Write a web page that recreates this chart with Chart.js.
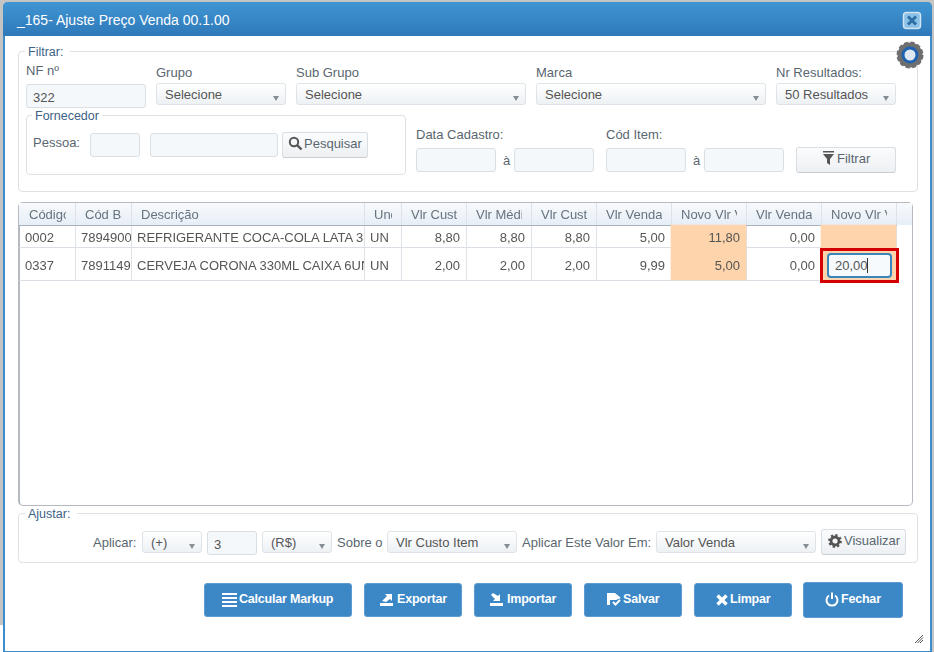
<!DOCTYPE html>
<html lang="pt-BR">
<head>
<meta charset="utf-8">
<title>_165- Ajuste Preço Venda</title>
<script src="https://cdn.jsdelivr.net/npm/chart.js@4"></script>
<style>
  html, body { margin: 0; padding: 0; }
  body { width: 934px; height: 652px; overflow: hidden; position: relative; background: #c4c4c4; font-family: "Liberation Sans", Arial, sans-serif; font-size: 13px; color: #5b6670; }
  #area div, #area svg { position: absolute; }
  #rodape { position: absolute; left: 0; top: 624px; width: 3px; height: 28px; background: #fff; border-top: 1px solid #c4c4c4; box-sizing: border-box; }
  #janela { position: absolute; left: 3px; top: 2px; width: 925px; height: 647px; background: #fff; border: 2px solid #3f8ccb; border-bottom-width: 3px; border-radius: 5px 5px 0 0; }
  #area { position: absolute; left: 0; top: 0; width: 934px; height: 652px; }
  #topo { left: 3px; top: 2px; width: 929px; height: 34px; background: linear-gradient(#3f95d3, #2f79b9); border-radius: 5px 5px 0 0; color: #fff; font-size: 14px; line-height: 36px; text-indent: 14px; }
  .grupo { border: 1px solid #dde2e6; border-radius: 4px; box-sizing: border-box; }
  .leg { background: #fff; color: #3d6286; font-size: 12.5px; padding: 0 7px 0 3px; line-height: 14px; white-space: nowrap; }
  .rot { white-space: nowrap; line-height: 16px; color: #5a666f; }
  .inp { box-sizing: border-box; height: 24px; background: #f4f8fb; border: 1px solid #d8e0e6; border-radius: 3px; line-height: 25px; padding-left: 6px; color: #555; }
  .sel { box-sizing: border-box; height: 22px; background: linear-gradient(#fff, #edf1f4); border: 1px solid #dde3e8; border-radius: 3px; line-height: 21px; padding-left: 8px; color: #555; white-space: nowrap; }
  .sel i { position: absolute; right: 6px; top: 12px; border-left: 3.5px solid transparent; border-right: 3.5px solid transparent; border-top: 5px solid #868e95; }
  .btn { box-sizing: border-box; background: linear-gradient(#fbfcfd, #edf0f3); border: 1px solid #d9dee3; border-bottom-color: #c9ced3; border-radius: 3px; color: #5a666f; line-height: 22px; white-space: nowrap; }
  .azul { box-sizing: border-box; height: 34px; top: 583px; background: #3c87c6; border: 1px solid #5c9cd2; border-radius: 3px; color: #fff; font-weight: bold; font-size: 12.5px; line-height: 31px; white-space: nowrap; letter-spacing: -0.2px; }
  #tabela { left: 18px; top: 202px; width: 895px; height: 304px; box-sizing: border-box; border: 1px solid #b4bac0; border-left: 2px solid #b4bac0; border-radius: 5px; }
  #cabecalho { left: 19px; top: 203px; width: 893px; height: 22px; background: linear-gradient(#f8fafc, #e6eef6); }
  #grade { position: absolute; left: 19px; top: 203px; }
  .cel { overflow: hidden; white-space: nowrap; box-sizing: border-box; }
  #destaque { left: 820px; top: 248px; width: 79px; height: 35px; box-sizing: border-box; border: 3px solid #d40000; }
  #campo { left: 827px; top: 253px; width: 65px; height: 25px; box-sizing: border-box; background: #f6fafd; border: 2px solid #3a86ba; border-radius: 4px; line-height: 22px; padding-left: 6px; color: #555; }
  #cursor { left: 38px; top: 3px; width: 1px; height: 15px; background: #333; }
</style>
</head>
<body>
<div id="rodape"></div>
<div id="janela"></div>
<div id="area">
  <div id="topo">_165- Ajuste Preço Venda 00.1.00</div>
  <svg style="left:902px;top:11px" width="20" height="20" viewBox="0 0 20 20"><rect x="1.5" y="1.5" width="17" height="16" rx="3" fill="#8cc0e6" stroke="#cfe4f4" stroke-width="1.5"/><path d="M6 5.5 14 13.5M14 5.5 6 13.5" stroke="#2d70a8" stroke-width="3"/></svg>

  <div class="grupo" style="left:18px;top:51px;width:900px;height:141px"></div>
  <div class="leg" style="left:25px;top:45px">Filtrar:</div>
  <svg style="left:896px;top:41px" width="28" height="28" viewBox="0 0 28 28"><circle cx="14" cy="14" r="10" fill="none" stroke="#6f6f6f" stroke-width="5"/><circle cx="14" cy="14" r="12" fill="none" stroke="#6f6f6f" stroke-width="3" stroke-dasharray="4 2.3"/><circle cx="14" cy="14" r="7" fill="#dfe8f2" stroke="#1f63b0" stroke-width="3"/></svg>

  <div class="rot" style="left:26px;top:63px">NF nº</div>
  <div class="inp" style="left:26px;top:84px;width:120px">322</div>
  <div class="rot" style="left:156px;top:65px">Grupo</div>
  <div class="sel" style="left:156px;top:83px;width:130px">Selecione<i></i></div>
  <div class="rot" style="left:296px;top:65px">Sub Grupo</div>
  <div class="sel" style="left:296px;top:83px;width:230px">Selecione<i></i></div>
  <div class="rot" style="left:536px;top:65px">Marca</div>
  <div class="sel" style="left:536px;top:83px;width:230px">Selecione<i></i></div>
  <div class="rot" style="left:776px;top:65px">Nr Resultados:</div>
  <div class="sel" style="left:776px;top:83px;width:120px">50 Resultados<i></i></div>

  <div class="grupo" style="left:26px;top:115px;width:380px;height:60px"></div>
  <div class="leg" style="left:32px;top:109px;padding-right:3px">Fornecedor</div>
  <div class="rot" style="left:33px;top:135px">Pessoa:</div>
  <div class="inp" style="left:90px;top:133px;width:50px"></div>
  <div class="inp" style="left:150px;top:133px;width:128px"></div>
  <div class="btn" style="left:282px;top:132px;width:86px;height:26px;padding-left:21px">Pesquisar
    <svg style="left:5px;top:3px" width="15" height="15" viewBox="0 0 15 15"><circle cx="6" cy="6" r="4.2" fill="none" stroke="#555" stroke-width="2"/><path d="M9 9 13.5 13.5" stroke="#555" stroke-width="2.4"/></svg>
  </div>
  <div class="rot" style="left:416px;top:127px">Data Cadastro:</div>
  <div class="inp" style="left:416px;top:148px;width:80px"></div>
  <div class="rot" style="left:503px;top:153px">à</div>
  <div class="inp" style="left:514px;top:148px;width:80px"></div>
  <div class="rot" style="left:606px;top:127px">Cód Item:</div>
  <div class="inp" style="left:606px;top:148px;width:80px"></div>
  <div class="rot" style="left:693px;top:153px">à</div>
  <div class="inp" style="left:704px;top:148px;width:80px"></div>
  <div class="btn" style="left:796px;top:147px;width:100px;height:26px;padding-left:40px">Filtrar
    <svg style="left:25px;top:3px" width="13" height="15" viewBox="0 0 13 15"><path d="M1 0H12V1.6H1ZM1 3H12L8 8V14L5 12V8Z" fill="#555"/></svg>
  </div>

  <div id="tabela"></div>
  <div id="cabecalho"></div>
  <canvas id="grade" width="878" height="78"></canvas>
  <div id="celulas" style="left:0;top:0"></div>
  <div id="destaque"></div>
  <div id="campo"><span id="valor-campo"></span><div id="cursor"></div></div>

  <div class="grupo" style="left:18px;top:513px;width:900px;height:50px"></div>
  <div class="leg" style="left:25px;top:507px">Ajustar:</div>
  <div class="rot" style="left:93px;top:535px">Aplicar:</div>
  <div class="sel" style="left:142px;top:531px;width:60px">(+)<i></i></div>
  <div class="inp" style="left:207px;top:531px;width:50px">3</div>
  <div class="sel" style="left:262px;top:531px;width:70px">(R$)<i></i></div>
  <div class="rot" style="left:337px;top:535px">Sobre o</div>
  <div class="sel" style="left:387px;top:531px;width:130px">Vlr Custo Item<i></i></div>
  <div class="rot" style="left:522px;top:535px">Aplicar Este Valor Em:</div>
  <div class="sel" style="left:656px;top:531px;width:160px">Valor Venda<i></i></div>
  <div class="btn" style="left:821px;top:529px;width:85px;height:26px;padding-left:22px">Visualizar
    <svg style="left:6px;top:4px" width="14" height="14" viewBox="0 0 14 14"><circle cx="7" cy="7" r="4" fill="none" stroke="#555" stroke-width="2.8"/><circle cx="7" cy="7" r="5.8" fill="none" stroke="#555" stroke-width="2.2" stroke-dasharray="2.2 2.3"/></svg>
  </div>

  <div class="azul" style="left:204px;width:148px;padding-left:34px">Calcular Markup
    <svg style="left:17px;top:9px" width="15" height="14" viewBox="0 0 15 14"><path d="M0 1H15M0 5H15M0 9H15M0 13H15" stroke="#fff" stroke-width="2"/></svg>
  </div>
  <div class="azul" style="left:364px;width:98px;padding-left:32px">Exportar
    <svg style="left:15px;top:8px" width="14" height="15" viewBox="0 0 14 15"><path d="M0 11H13V14H0ZM2 9 7 4 5 2H12V9L10 7 6 10Z" fill="#fff"/></svg>
  </div>
  <div class="azul" style="left:474px;width:98px;padding-left:32px">Importar
    <svg style="left:15px;top:8px" width="14" height="15" viewBox="0 0 14 15"><path d="M0 11H13V14H0ZM3 1 8 4 10 2V9H3L5 7 1 3Z" fill="#fff"/></svg>
  </div>
  <div class="azul" style="left:584px;width:98px;padding-left:38px">Salvar
    <svg style="left:21px;top:8px" width="16" height="15" viewBox="0 0 16 15"><path d="M1 1H9L15 6 10 8H4V13H1Z" fill="#fff"/><path d="M7 10 9.500 12.500 14 8" stroke="#fff" stroke-width="2" fill="none"/></svg>
  </div>
  <div class="azul" style="left:694px;width:98px;padding-left:35px">Limpar
    <svg style="left:21px;top:10px" width="12" height="12" viewBox="0 0 12 12"><path d="M1.500 1.500 10.500 10.500M10.500 1.500 1.500 10.500" stroke="#fff" stroke-width="3.4"/></svg>
  </div>
  <div class="azul" style="left:803px;width:100px;height:36px;top:582px;padding-left:37px;line-height:33px">Fechar
    <svg style="left:21px;top:9px" width="14" height="15" viewBox="0 0 14 15"><path d="M4 3.500A5.500 5.500 0 1 0 10 3.500" fill="none" stroke="#fff" stroke-width="2"/><path d="M7 0.500V7" stroke="#fff" stroke-width="2"/></svg>
  </div>

  <svg style="left:914px;top:634px" width="10" height="10" viewBox="0 0 10 10"><path d="M1 9 9 1M3.500 9 9 3.500M6 9 9 6" stroke="#555" stroke-width="1"/></svg>
</div>

<script>
  // --- DADOS DA GRADE ---
  const colunas = ['Código', 'Cód Barras', 'Descrição', 'Und', 'Vlr Custo', 'Vlr Médio', 'Vlr Custo', 'Vlr Venda', 'Novo Vlr Venda', 'Vlr Venda', 'Novo Vlr Venda'];
  const codigos = ['0002', '0337'];
  const codBarras = ['7894900011517', '7891149103102'];
  const descricoes = ['REFRIGERANTE COCA-COLA LATA 350ML', 'CERVEJA CORONA 330ML CAIXA 6UN'];
  const unidades = ['UN', 'UN'];
  const vlrCustoItem = [8.80, 2.00];
  const vlrMedio = [8.80, 2.00];
  const vlrCustoMedio = [8.80, 2.00];
  const vlrVenda = [5.00, 9.99];
  const novoVlrVenda = [11.80, 5.00];
  const vlrVendaAtacado = [0.00, 0.00];
  const novoVlrAtacado = [null, 20.00];

  // --- GEOMETRIA DA GRADE (em pixels da página) ---
  const bordasColunas = [19, 75, 131, 364, 401, 466, 531, 596, 671, 746, 821, 896];
  const bordasLinhas = [203, 225, 248, 280];
  const colunasDestaque = [8, 10];

  const moeda = v => v === null ? '' : v.toFixed(2).replace('.', ',');

  // monta uma barra flutuante ocupando a celula (coluna, linha)
  function celula(col, lin) {
    return {
      x: (bordasColunas[col] + bordasColunas[col + 1]) / 2,
      y: [bordasLinhas[lin + 1], bordasLinhas[lin + 2]]
    };
  }

  const celulasDestaque = [];
  colunasDestaque.forEach(col => {
    codigos.forEach((c, lin) => celulasDestaque.push(celula(col, lin)));
  });

  // escreve os textos da grade como texto real, posicionados pelas escalas
  const textosGrade = {
    id: 'textosGrade',
    afterRender(chart) {
      const alvo = document.getElementById('celulas');
      if (alvo.childElementCount) return;
      const { x, y } = chart.scales;
      const box = chart.canvas.getBoundingClientRect();

      function escreve(texto, col, lin, alinhado, cor, pad, desce) {
        const div = document.createElement('div');
        const esq = box.left + x.getPixelForValue(bordasColunas[col]);
        const dir = box.left + x.getPixelForValue(bordasColunas[col + 1]);
        const top = box.top + y.getPixelForValue(bordasLinhas[lin]) + desce;
        const bas = box.top + y.getPixelForValue(bordasLinhas[lin + 1]) + desce;
        div.className = 'cel';
        div.textContent = texto;
        div.style.cssText = `left:${esq + pad[0]}px;width:${dir - esq - pad[0] - pad[1]}px;top:${top}px;height:${bas - top}px;line-height:${bas - top + 1}px;text-align:${alinhado};color:${cor}`;
        alvo.appendChild(div);
      }

      colunas.forEach((nome, col) => escreve(nome, col, 0, 'left', '#66737e', [10, 9], 0));

      codigos.forEach((cod, i) => {
        const lin = i + 1;
        const cor = '#555';
        escreve(cod, 0, lin, 'left', cor, [6, 2], 1);
        escreve(codBarras[i], 1, lin, 'left', cor, [6, 0], 1);
        escreve(descricoes[i], 2, lin, 'left', cor, [6, 0], 1);
        escreve(unidades[i], 3, lin, 'left', cor, [6, 0], 1);
        [vlrCustoItem, vlrMedio, vlrCustoMedio, vlrVenda, novoVlrVenda, vlrVendaAtacado].forEach((serie, k) => {
          escreve(moeda(serie[i]), 4 + k, lin, 'right', cor, [0, 6], 1);
        });
      });
    }
  };

  document.getElementById('valor-campo').textContent = moeda(novoVlrAtacado[1]);

  new Chart(document.getElementById('grade'), {
    type: 'bar',
    data: {
      datasets: [{
        data: celulasDestaque,
        backgroundColor: '#fdd4ab',
        barThickness: 75,
        borderSkipped: false
      }]
    },
    plugins: [textosGrade],
    options: {
      responsive: false,
      animation: false,
      layout: { padding: 0 },
      plugins: { legend: { display: false }, tooltip: { enabled: false } },
      scales: {
        x: {
          type: 'linear',
          offset: false,
          min: 19,
          max: 897,
          border: { display: false },
          ticks: { display: false },
          grid: { drawTicks: false, offset: false, color: '#dde3e8' },
          afterBuildTicks: axis => { axis.ticks = bordasColunas.slice(1).map(v => ({ value: v })); }
        },
        y: {
          type: 'linear',
          reverse: true,
          min: 203,
          max: 281,
          border: { display: false },
          ticks: { display: false },
          grid: {
            drawTicks: false,
            color: ctx => ctx.tick && ctx.tick.value === bordasLinhas[1] ? '#a9b2ba' : '#d9dfe4'
          },
          afterBuildTicks: axis => { axis.ticks = bordasLinhas.slice(1).map(v => ({ value: v })); }
        }
      }
    }
  });
</script>
</body>
</html>
